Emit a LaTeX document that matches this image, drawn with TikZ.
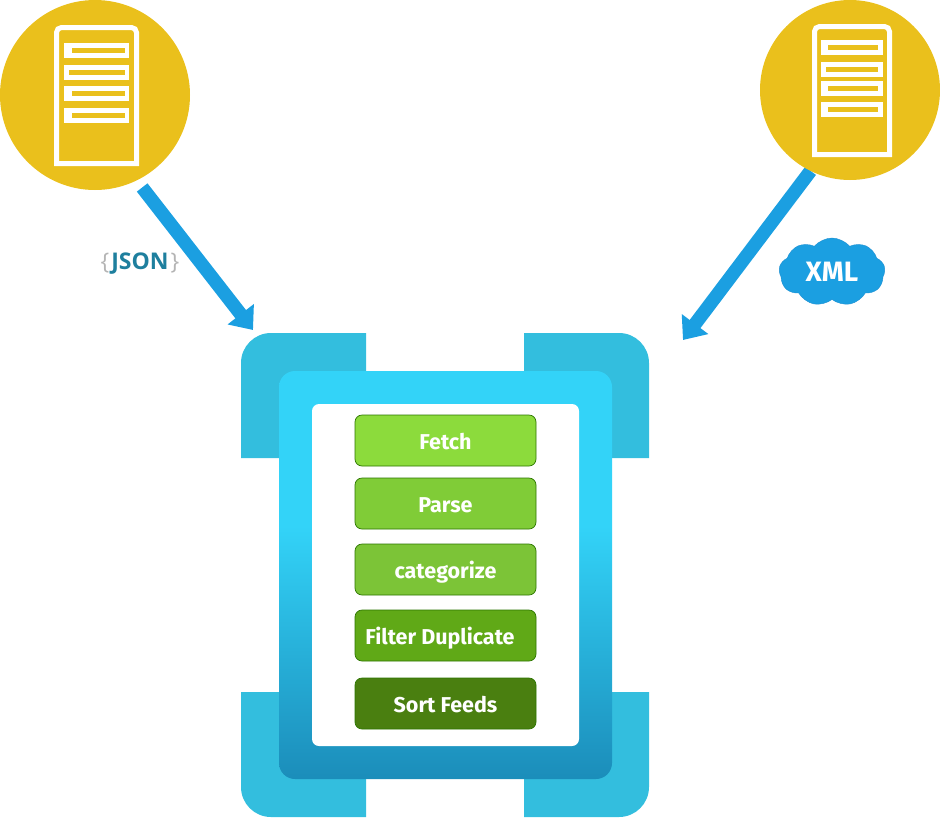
\documentclass[tikz,border=0pt]{standalone}
\usepackage{xcolor}
\usepackage{fontspec}
\usepackage{tikz}
\usetikzlibrary{arrows.meta,positioning,shapes.symbols,backgrounds}

\setmainfont{Fira Sans}
\newfontfamily\jsonfont{Open Sans}

\definecolor{srvgold}{HTML}{EAC01C}
\definecolor{flowblue}{HTML}{1B9FE1}
\definecolor{flowedge}{HTML}{1B8FD2}
\definecolor{cornerblue}{HTML}{33BEDE}
\definecolor{cardtop}{HTML}{33D3F8}
\definecolor{cardbot}{HTML}{1B8DBA}
\definecolor{jsonteal}{HTML}{1E7F9E}
\definecolor{bracegray}{HTML}{B4B4B4}
\definecolor{stepedge}{HTML}{2D7600}

\pgfdeclareverticalshading{cardgrad}{100bp}{
  color(0bp)=(cardbot); color(25bp)=(cardbot);
  color(56bp)=(cardtop); color(100bp)=(cardtop)}

\begin{document}
\begin{tikzpicture}[
  x=1pt, y=-1pt,
  srv/.style={circle, fill=srvgold, inner sep=0pt, outer sep=0pt},
  srvline/.style={draw=white, line width=5pt, line join=miter},
  slot/.style={fill=white},
  hole/.style={fill=srvgold},
  flow/.style={-{Triangle[width=32pt,length=20pt]}, draw=flowblue, line width=13.5pt},
  corner/.style={fill=cornerblue},
  stepbox/.style={draw=stepedge, line width=0.7pt, rounded corners=7pt, minimum width=181pt,
    minimum height=51pt, inner sep=0pt, outer sep=0pt, text=white, text height=20pt, text depth=3pt,
    font=\fontsize{21.5}{24}\selectfont\bfseries}
]
\useasboundingbox (0,0) rectangle (940,820);

% Servers
\node[srv, minimum size=190pt] (jsonsrv) at (95,95) {};
\node[srv, minimum size=180pt] (xmlsrv) at (850,90) {};

\draw[srvline] (56.5,163.5) [rounded corners=5pt] -- (56.5,27.5) -- (136.5,27.5) [sharp corners] -- (136.5,163.5) -- cycle;
\foreach \xa/\ya in {72/43, 69/65, 72/86, 72/108} {
  \fill[slot] (64,\ya) rectangle (129,\ya+15);
  \fill[hole] (\xa,\ya+5) rectangle (125,\ya+10);
}

\draw[srvline] (814.5,154.5) [rounded corners=5pt] -- (814.5,26.5) -- (889.5,26.5) [sharp corners] -- (889.5,154.5) -- cycle;
\foreach \xa/\ya in {828/40, 826/62, 828/81, 828/102} {
  \fill[slot] (821,\ya) rectangle (883,\ya+14.5);
  \fill[hole] (\xa,\ya+5) rectangle (878,\ya+10);
}

% Application frame
\fill[corner] (241,458) [rounded corners=30pt] -- (241,333) [sharp corners] -- (366,333) -- (366,458) -- cycle;
\fill[corner] (649,458) [rounded corners=30pt] -- (649,333) [sharp corners] -- (524,333) -- (524,458) -- cycle;
\fill[corner] (241,692) [rounded corners=30pt] -- (241,817) [sharp corners] -- (366,817) -- (366,692) -- cycle;
\fill[corner] (649,692) [rounded corners=30pt] -- (649,817) [sharp corners] -- (524,817) -- (524,692) -- cycle;

\node[shading=cardgrad, rounded corners=16pt, minimum width=333pt, minimum height=408pt,
  inner sep=0pt, outer sep=0pt] (appbody) at (445.5,575) {};
\node[fill=white, rounded corners=7pt, minimum width=267pt, minimum height=342pt,
  inner sep=0pt, outer sep=0pt] (appcard) at (445.5,575) {};

% Steps
\node[stepbox, fill={rgb,255:red,140;green,219;blue,60}] (fetch) at (445.5,440.5) {Fetch};
\node[stepbox, fill={rgb,255:red,128;green,204;blue,55}, below=12pt of fetch] (parse) {Parse};
\node[stepbox, fill={rgb,255:red,124;green,196;blue,55}, below=15pt of parse] (categorize) {categorize};
\node[stepbox, fill={rgb,255:red,96;green,169;blue,23}, below=15pt of categorize] (filterdup) {Filter Duplicate\rule{11pt}{0pt}};
\node[stepbox, fill={rgb,255:red,74;green,127;blue,16}, below=17pt of filterdup] (sortfeeds) {Sort Feeds};

% Labels
\node[inner sep=0pt, font=\jsonfont\fontsize{23}{26}\selectfont] (jsonlab) at (140,264)
  {\textcolor{bracegray}{\{}\kern2pt\textcolor{jsonteal}{\textbf{JSON}}\kern2pt\textcolor{bracegray}{\}}};
\node[cloud, cloud puffs=9, cloud puff arc=100, aspect=1.6, fill=flowblue, draw=flowedge,
  minimum width=106pt, minimum height=68pt, inner sep=0pt, text=white,
  font=\fontsize{28}{30}\selectfont\bfseries] (xmlcloud) at (832,272) {XML};

% Connections
\coordinate (jsontip) at (253,330);
\coordinate (xmltip) at (683,340);
\begin{scope}[on background layer]
\draw[flow, shorten <=9pt] (jsonsrv.-64.8) -- (jsontip);
\draw[flow] (xmlsrv.-116.4) -- (xmltip);
\end{scope}
\end{tikzpicture}
\end{document}
